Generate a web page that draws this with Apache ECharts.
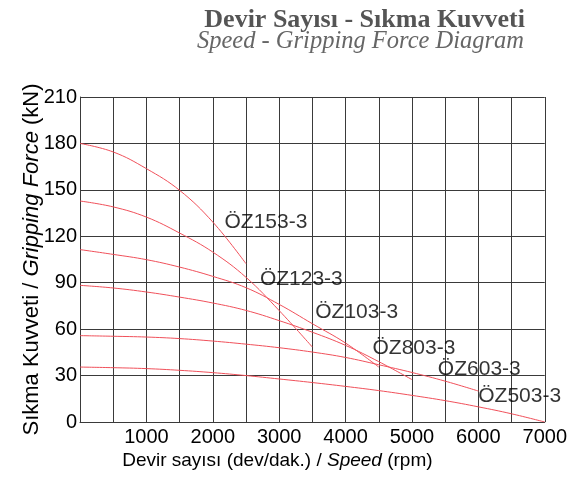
<!DOCTYPE html>
<html>
<head>
<meta charset="utf-8">
<script src="https://cdn.jsdelivr.net/npm/echarts@6/dist/echarts.min.js"></script>
<style>
  html, body { margin: 0; padding: 0; background: #fff; }
  #chart { width: 570px; height: 478px; }
</style>
</head>
<body>
<div id="chart"></div>
<script>
// speed step between readings (rpm)
const step = 500;
const xTicks = [1000, 2000, 3000, 4000, 5000, 6000, 7000];
const yTicks = [0, 30, 60, 90, 120, 150, 180, 210];

const names = ["ÖZ153-3", "ÖZ123-3", "ÖZ103-3", "ÖZ803-3", "ÖZ603-3", "ÖZ503-3"];
// gripping force (kN) read every 500 rpm from 0
const oz153 = [180, 174.5, 163.7, 149.7, 129.2, 102.3];
const oz123 = [142.8, 139, 132.4, 122.1, 109.8, 93.5, 72, 48.4];
const oz103 = [111.4, 108.3, 104.9, 100.1, 94.1, 86.8, 76, 63.5, 51, 35.5];
const oz803 = [88.3, 86.6, 84, 80.7, 76.9, 72.1, 65.5, 58, 49.5, 39, 27.4];
const oz603 = [55.8, 55.4, 54.9, 53.9, 52.3, 50.3, 48, 45.2, 41.7, 37, 32, 26.4, 20];
const oz503 = [35.5, 35.1, 34.5, 33.4, 31.9, 30, 27.8, 25.5, 23, 20.3, 17.2, 13.8, 9.8, 5.3, 0];

const forces = [oz153, oz123, oz103, oz803, oz603, oz503];
// label offset from the end of each curve (px)
const labelOffsets = [[-21, -41], [-52, -67], [-63, -54], [-39, -31], [-40, -21], [-66, -25]];

const lineColor = "#f0505a";
const gridColor = "#3a3a3a";

const lineSeries = forces.map(function (vals, i) {
  return {
    name: names[i],
    type: "line",
    smooth: 0.4,
    showSymbol: false,
    symbol: "none",
    silent: true,
    lineStyle: { color: lineColor, width: 1 },
    data: vals.map(function (v, k) { return [k * step, v]; }),
  };
});

const labelSeries = {
  type: "scatter",
  symbolSize: 1,
  silent: true,
  itemStyle: { color: "rgba(0,0,0,0)" },
  label: {
    show: true,
    formatter: "{b}",
    align: "left",
    verticalAlign: "middle",
    color: "#000",
    fontSize: 21,
    fontFamily: "Liberation Sans",
  },
  data: forces.map(function (vals, i) {
    return {
      name: names[i],
      value: [(vals.length - 1) * step, vals[vals.length - 1]],
      label: { position: labelOffsets[i] },
    };
  }),
};

const chart = echarts.init(document.getElementById("chart"));
chart.setOption({
  animation: false,
  title: [
    {
      text: "Devir Sayısı - Sıkma Kuvveti",
      right: 45,
      top: 7,
      padding: 0,
      textStyle: {
        fontFamily: "Liberation Serif",
        fontSize: 26,
        fontWeight: "bold",
        color: "#555",
        lineHeight: 26,
      },
    },
    {
      text: "Speed - Gripping Force Diagram",
      right: 46,
      top: 29,
      padding: 0,
      textStyle: {
        fontFamily: "Liberation Serif",
        fontSize: 24.5,
        fontStyle: "italic",
        fontWeight: "normal",
        color: "#666",
        lineHeight: 25,
      },
    },
  ],
  grid: { left: 80, right: 25, top: 97, bottom: 56, containLabel: false },
  xAxis: {
    type: "value",
    min: 0,
    max: 7000,
    interval: step,
    name: "{n|Devir sayısı (dev/dak.) / }{i|Speed}{n| (rpm)}",
    nameLocation: "middle",
    nameGap: 29,
    nameMoveOverlap: false,
    nameTextStyle: {
      padding: [0, 70, 0, 0],
      rich: {
        n: { fontSize: 19, fontFamily: "Liberation Sans", color: "#000" },
        i: { fontSize: 19, fontFamily: "Liberation Sans", fontStyle: "italic", color: "#000" },
      },
    },
    axisLine: { lineStyle: { color: gridColor } },
    axisTick: { show: false },
    axisLabel: {
      margin: 5,
      color: "#000",
      fontSize: 20,
      fontFamily: "Liberation Sans",
      formatter: function (v) { return xTicks.indexOf(v) >= 0 ? String(v) : ""; },
    },
    splitLine: { show: true, lineStyle: { color: gridColor, width: 1 } },
  },
  yAxis: {
    type: "value",
    min: 0,
    max: 210,
    interval: 30,
    name: "{n|Sıkma Kuvveti / }{i|Gripping Force}{n| (kN)}",
    nameLocation: "middle",
    nameGap: 37,
    nameMoveOverlap: false,
    nameTextStyle: {
      rich: {
        n: { fontSize: 22, fontFamily: "Liberation Sans", color: "#000" },
        i: { fontSize: 22, fontFamily: "Liberation Sans", fontStyle: "italic", color: "#000" },
      },
    },
    axisLine: { show: true, lineStyle: { color: gridColor } },
    axisTick: { show: false },
    axisLabel: {
      margin: 3,
      color: "#000",
      fontSize: 20,
      fontFamily: "Liberation Sans",
      formatter: function (v) { return yTicks.indexOf(v) >= 0 ? String(v) : ""; },
    },
    splitLine: { show: true, lineStyle: { color: gridColor, width: 1 } },
  },
  series: lineSeries.concat([labelSeries]),
});
</script>
</body>
</html>
